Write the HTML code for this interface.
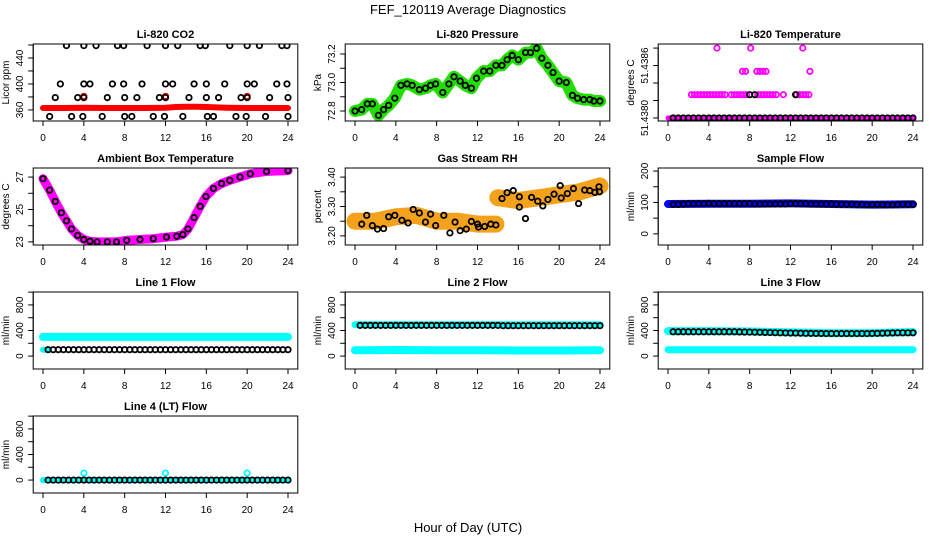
<!DOCTYPE html>
<html><head><meta charset="utf-8"><style>
html,body{margin:0;padding:0;background:#fff}
svg{display:block;font-family:"Liberation Sans",sans-serif}
</style></head><body>
<svg id="chart" width="936" height="540" viewBox="0 0 936 540">
<text x="468" y="14" text-anchor="middle" font-size="13">FEF_120119  Average Diagnostics</text>
<text x="468" y="532" text-anchor="middle" font-size="13">Hour of Day (UTC)</text>
</svg>
<script>
// ---------- data ----------
const H48=[0.5,1,1.5,2,2.5,3,3.5,4,4.5,5,5.5,6,6.5,7,7.5,8,8.5,9,9.5,10,10.5,11,11.5,12,12.5,13,13.5,14,14.5,15,15.5,16,16.5,17,17.5,18,18.5,19,19.5,20,20.5,21,21.5,22,22.5,23,23.5,24];
const xTicks=[0,4,8,12,16,20,24];

const co2BlackX=[2.3,4,5.2,7.3,7.9,10.2,12,13.2,15.4,15.9,18.3,20,21.2,23.4,23.9,1.7,4,4.6,6.8,7.9,9.7,12,12.7,14.8,16,17.8,20,20.7,22.9,23.9,1.2,3.4,4,6.3,8,9.2,11.4,12,14.3,16,17.2,19.4,20,22.2,24,0.65,2.8,3.9,5.8,8,8.7,10.8,11.9,13.7,16.1,16.7,18.9,19.9,21.8,24];
const co2BlackY=[459,459,459,459,459,459,459,459,459,459,459,459,459,459,459,400,400,400,400,400,400,400,400,400,400,400,400,400,400,400,379,379,379,379,379,379,379,379,379,379,379,379,379,379,379,350,350,350,350,350,350,350,350,350,350,350,350,350,350,350];
const co2RedX=[0,2,4,6,8,10,12,13,14,15,16,18,20,22,24];
const co2RedY=[363,363,363.5,363,363,363,363.5,364.5,365,365,364.5,363.5,363,363,363];
const co2RedSpikeX=[4,12,20];
const co2RedSpikeY=[381,381,381];

const presX=[0,0.65,1.2,1.7,2.3,2.8,3.3,3.9,4.5,5.1,5.6,6.3,6.9,7.4,7.9,8.6,9.2,9.7,10.3,10.8,11.4,11.9,12.6,13.2,13.8,14.4,14.9,15.4,16.0,16.7,17.2,17.8,18.3,18.9,19.4,20.0,20.7,21.3,21.8,22.4,23.0,23.4,24.0];
const presY=[72.8,72.81,72.85,72.85,72.77,72.81,72.84,72.89,72.98,72.99,72.98,72.95,72.96,72.98,72.99,72.93,72.99,73.04,73.01,72.98,72.96,73.03,73.08,73.08,73.12,73.12,73.16,73.19,73.16,73.21,73.21,73.24,73.17,73.12,73.07,73.01,73.0,72.91,72.89,72.88,72.88,72.87,72.87];

const ltBaseX=[0,24];
const ltBaseY=[51.4380,51.4380];
const ltMagX=[2.3,2.6,2.9,3.2,3.5,3.8,4.1,4.4,4.7,5.0,5.3,5.6,6.2,6.5,6.8,7.1,7.4,7.7,8.8,9.1,9.4,9.7,10.0,10.3,10.6,11.3,12.6,12.9,13.2,13.5,13.8,7.3,7.6,8.7,9.0,9.3,9.6,13.9,4.8,8.1,13.2];
const ltMagY=[51.4382,51.4382,51.4382,51.4382,51.4382,51.4382,51.4382,51.4382,51.4382,51.4382,51.4382,51.4382,51.4382,51.4382,51.4382,51.4382,51.4382,51.4382,51.4382,51.4382,51.4382,51.4382,51.4382,51.4382,51.4382,51.4382,51.4382,51.4382,51.4382,51.4382,51.4382,51.4384,51.4384,51.4384,51.4384,51.4384,51.4384,51.4384,51.4386,51.4386,51.4386];
const ltBlackX=[8,8.5,12.5];
const ltBlackY=[51.4382,51.4382,51.4382];
const ltTickVals=[51.4380,51.43815,51.4383,51.43845,51.4386];
const ltLabelVals=[51.4380,51.43845];
const ltLabels=["51.4380","51.4386"];

const ambX=[0,0.65,1.2,1.8,2.3,2.8,3.4,4.0,4.6,5.3,6.3,7.2,8.2,9.5,10.8,12.1,13.1,13.7,14.2,14.8,15.4,15.96,16.7,17.5,18.3,19.3,20.3,21.9,24.0];
const ambY=[26.9,26.2,25.5,24.8,24.3,23.8,23.4,23.15,23.04,23.0,23.0,23.0,23.1,23.15,23.2,23.3,23.35,23.45,23.8,24.5,25.2,25.8,26.3,26.6,26.8,27.0,27.2,27.35,27.4];

const rhBandX=[0,2,4,6,8,10,12,13.8];
const rhBandY=[3.25,3.25,3.265,3.27,3.25,3.25,3.24,3.24];
const rhBand2X=[14,16,18,20,22,24];
const rhBand2Y=[3.33,3.32,3.33,3.34,3.35,3.37];
const rhX=[0.66,1.15,1.7,2.2,2.8,3.3,3.9,4.6,5.2,5.7,6.3,6.9,7.4,7.9,8.7,9.3,9.8,10.3,10.9,11.4,12.0,12.1,12.7,13.3,13.8,14.4,14.9,15.5,16.1,16.1,16.7,17.3,17.9,18.4,18.9,19.5,20.1,20.2,20.8,21.4,21.9,22.5,23.0,23.5,23.9,23.95];
const rhY=[3.24,3.27,3.235,3.223,3.225,3.265,3.27,3.253,3.244,3.29,3.278,3.247,3.274,3.235,3.27,3.21,3.247,3.218,3.223,3.249,3.24,3.23,3.232,3.24,3.237,3.327,3.347,3.354,3.333,3.298,3.259,3.331,3.318,3.302,3.324,3.342,3.371,3.329,3.344,3.361,3.31,3.356,3.354,3.348,3.367,3.35];

const sampleBandX=[0,4,8,12,16,20,24];
const sampleBandY=[95,96,96,97,95,93,94];
const sampleBlack=[94,94,95,96,96,96,96,97,96,96,96,96,96,96,96,96,95,95,95,95,95,95,95,96,96,96,96,95,95,95,95,95,94,94,94,94,93,93,92,93,93,93,92,92,93,94,94,94];

const l1CyanX=[0,4,8,12,16,20,24];
const l1CyanY=[300,300,300,300,300,300,300];
const l1Black=[100,100,100,100,100,100,100,100,100,100,100,100,100,100,100,100,100,100,100,100,100,100,100,100,100,100,100,100,100,100,100,100,100,100,100,100,100,100,100,100,100,100,100,100,100,100,100,100];
const l1LowCyanX=[0,0.6];
const l1LowCyanY=[100,100];

const l2CyanHiX=[0,24];
const l2CyanHiY=[490,490];
const l2CyanLoX=[0,4,8,12,16,20,24];
const l2CyanLoY=[92,95,92,92,88,88,90];
const l2Black=[480,480,480,480,480,480,480,480,480,480,480,480,480,480,480,480,480,480,480,480,480,480,480,480,480,480,480,480,475,475,475,475,475,475,475,475,475,475,475,475,475,475,475,475,475,475,475,475];

const l3CyanHiX=[0,4,8,12,16,20,24];
const l3CyanHiY=[390,390,385,370,360,360,375];
const l3CyanLoX=[0,24];
const l3CyanLoY=[100,100];
const l3Black=[380,380,380,380,380,380,380,380,380,380,380,380,380,378,376,375,374,372,370,368,366,364,362,360,360,358,356,355,354,353,352,352,352,352,352,352,352,352,352,354,356,358,360,362,364,364,364,364];

const l4CyanX=[0,24];
const l4CyanY=[0,0];
const l4SpikeX=[4,12,20];
const l4SpikeY=[110,110,110];
const l4Black=[0,0,0,0,0,0,0,0,0,0,0,0,0,0,0,0,0,0,0,0,0,0,0,0,0,0,0,0,0,0,0,0,0,0,0,0,0,0,0,0,0,0,0,0,0,0,0,0];

// ---------- drawing ----------
const NS="http://www.w3.org/2000/svg";
const svg=document.getElementById('chart');
function mk(tag,attrs,parent){const e=document.createElementNS(NS,tag);for(const k in attrs)e.setAttribute(k,attrs[k]);(parent||svg).appendChild(e);return e;}
const colX0=[43,355,668];
const rowTop=[44,168,292,416];
const BH=77, XSPAN=245;

function panel(col,row,title,ylab,ymin,ymax,yTickVals,yLabelVals,yLabels,name){
  const g=mk('g',{});
  
  
  const x0=colX0[col], top=rowTop[row], bot=top+BH;
  const left=x0-XSPAN*0.04, right=x0+XSPAN*1.04;
  const sx=v=>x0+v/24*XSPAN;
  const sy=v=>bot-(v-ymin)/(ymax-ymin)*BH;
  const t=mk('text',{x:(left+right)/2,y:top-6,'text-anchor':'middle','font-size':11,'font-weight':'bold'},g);
  t.textContent=title;
  
  
  const xa=mk('g',{},g);
  
  
  mk('line',{x1:sx(0),x2:sx(24),y1:bot,y2:bot,stroke:'#000'},xa);
  xTicks.forEach(v=>{
    mk('line',{x1:sx(v),x2:sx(v),y1:bot,y2:bot+5,stroke:'#000'},xa);
    const tl=mk('text',{x:sx(v),y:bot+20,'text-anchor':'middle','font-size':10},xa);
    tl.textContent=v;
  });
  const ya=mk('g',{},g);
  
  
  mk('line',{x1:left,x2:left,y1:sy(yTickVals[0]),y2:sy(yTickVals[yTickVals.length-1]),stroke:'#000'},ya);
  yTickVals.forEach(v=>mk('line',{x1:left,x2:left-5,y1:sy(v),y2:sy(v),stroke:'#000'},ya));
  yLabelVals.forEach((v,i)=>{
    const tl=mk('text',{x:0,y:0,'text-anchor':'middle','font-size':10,transform:`translate(${left-10},${sy(v)}) rotate(-90)`},ya);
    tl.textContent=yLabels[i];
  });
  const yt=mk('text',{x:0,y:0,'text-anchor':'middle','font-size':10,transform:`translate(${left-24},${(top+bot)/2}) rotate(-90)`},g);
  yt.textContent=ylab;
  
  
  const clipId='c'+name;
  const cp=mk('clipPath',{id:clipId},g);mk('rect',{x:left,y:top,width:right-left,height:BH},cp);
  const plot=mk('g',{'clip-path':`url(#${clipId})`},g);
  const box=mk('rect',{x:left,y:top,width:right-left,height:BH,fill:'none',stroke:'#000'},g);
  
  
  return {plot,sx,sy};
}
function band(p,xs,ys,color,w,name){
  const d=xs.map((x,i)=>(i?'L':'M')+p.sx(x).toFixed(1)+','+p.sy(ys[i]).toFixed(1)).join('');
  const e=mk('path',{d,fill:'none',stroke:color,'stroke-width':w,'stroke-linecap':'round','stroke-linejoin':'round'},p.plot);
  
  
}
function pts(p,xs,ys,color,name,r){
  const g=mk('g',{},p.plot);
  
  
  xs.forEach((x,i)=>{
    const c=mk('circle',{cx:p.sx(x),cy:p.sy(ys[i]),r:r||2.7,fill:'none',stroke:color,'stroke-width':1.8},g);
    
    
  });
}

let p;
p=panel(0,0,'Li-820 CO2','Licor ppm',343,461.5,[360,380,400,420,440,460],[360,400,440],['360','400','440'],'co2');
band(p,co2RedX,co2RedY,'#ff0000',6,'co2-red-band');
pts(p,co2RedSpikeX,co2RedSpikeY,'#ff0000','co2-red-spikes');
pts(p,co2BlackX,co2BlackY,'#000','co2-black-points');
p=panel(1,0,'Li-820 Pressure','kPa',72.73,73.27,[72.8,72.9,73.0,73.1,73.2],[72.8,73.0,73.2],['72.8','73.0','73.2'],'pressure');
band(p,presX,presY,'#22dd00',12,'pressure-green-band');
pts(p,presX,presY,'#000','pressure-black-points');
p=panel(2,0,'Li-820 Temperature','degrees C',51.437974,51.438635,ltTickVals,ltLabelVals,ltLabels,'li820-temp');
band(p,ltBaseX,ltBaseY,'#ff00ff',5,'li820-temp-magenta-base');
pts(p,ltMagX,ltMagY,'#ff00ff','li820-temp-magenta-points');
pts(p,H48,H48.map(()=>51.4380),'#000','li820-temp-black-points');
pts(p,ltBlackX,ltBlackY,'#000','li820-temp-black-upper');
p=panel(0,1,'Ambient Box Temperature','degrees C',22.81,27.56,[23,24,25,26,27],[23,25,27],['23','25','27'],'ambient');
band(p,ambX,ambY,'#ff00ff',9,'ambient-magenta-band');
pts(p,ambX,ambY,'#000','ambient-black-points');
p=panel(1,1,'Gas Stream RH','percent',3.169,3.431,[3.20,3.25,3.30,3.35,3.40],[3.20,3.30,3.40],['3.20','3.30','3.40'],'rh');
band(p,rhBandX,rhBandY,'#f4a21c',17,'rh-orange-band-early');
band(p,rhBand2X,rhBand2Y,'#f4a21c',17,'rh-orange-band-late');
pts(p,rhX,rhY,'#000','rh-black-points');
p=panel(2,1,'Sample Flow','ml/min',-35.5,209.7,[0,50,100,150,200],[0,100,200],['0','100','200'],'sample-flow');
band(p,sampleBandX,sampleBandY,'#0000ff',8,'sample-flow-blue-band');
pts(p,H48,sampleBlack,'#000','sample-flow-black-points');
const fT=[0,200,400,600,800,1000], fL=[0,400,800], fS=['0','400','800'];
p=panel(0,2,'Line 1 Flow','ml/min',-202,1002,fT,fL,fS,'line1-flow');
band(p,l1CyanX,l1CyanY,'#00ffff',8,'line1-cyan-band');
band(p,l1LowCyanX,l1LowCyanY,'#00ffff',6,'line1-cyan-low');
pts(p,H48,l1Black,'#000','line1-black-points');
p=panel(1,2,'Line 2 Flow','ml/min',-202,1002,fT,fL,fS,'line2-flow');
band(p,l2CyanHiX,l2CyanHiY,'#00ffff',7,'line2-cyan-high');
band(p,l2CyanLoX,l2CyanLoY,'#00ffff',8,'line2-cyan-low');
pts(p,H48,l2Black,'#000','line2-black-points');
p=panel(2,2,'Line 3 Flow','ml/min',-202,1002,fT,fL,fS,'line3-flow');
band(p,l3CyanHiX,l3CyanHiY,'#00ffff',8,'line3-cyan-high');
band(p,l3CyanLoX,l3CyanLoY,'#00ffff',7,'line3-cyan-low');
pts(p,H48,l3Black,'#000','line3-black-points');
p=panel(0,3,'Line 4 (LT) Flow','ml/min',-202,1002,fT,fL,fS,'line4-flow');
band(p,l4CyanX,l4CyanY,'#00ffff',6,'line4-cyan-band');
pts(p,l4SpikeX,l4SpikeY,'#00ffff','line4-cyan-spikes');
pts(p,H48,l4Black,'#000','line4-black-points');
</script>
</body></html>
